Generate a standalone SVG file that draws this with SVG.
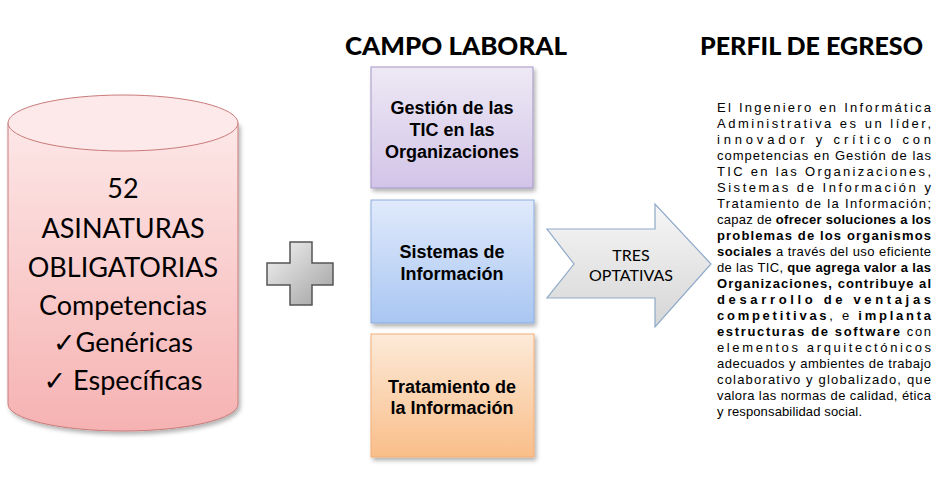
<svg xmlns="http://www.w3.org/2000/svg" width="949" height="491" viewBox="0 0 949 491">
<defs>
  <linearGradient id="gCyl" x1="0" y1="0" x2="0" y2="1">
    <stop offset="0" stop-color="#fde7e7"/>
    <stop offset="1" stop-color="#f6b2b2"/>
  </linearGradient>
  <linearGradient id="gPur" x1="0" y1="0" x2="0" y2="1">
    <stop offset="0" stop-color="#eee9f5"/>
    <stop offset="1" stop-color="#d2c4e8"/>
  </linearGradient>
  <linearGradient id="gBlu" x1="0" y1="0" x2="0" y2="1">
    <stop offset="0" stop-color="#e0eafb"/>
    <stop offset="1" stop-color="#a9c6f2"/>
  </linearGradient>
  <linearGradient id="gOra" x1="0" y1="0" x2="0" y2="1">
    <stop offset="0" stop-color="#fdead9"/>
    <stop offset="1" stop-color="#f9be89"/>
  </linearGradient>
  <linearGradient id="gGray" x1="0" y1="0" x2="0" y2="1">
    <stop offset="0" stop-color="#f6f6f6"/>
    <stop offset="1" stop-color="#d6d6d6"/>
  </linearGradient>
  <linearGradient id="gPlus" x1="0" y1="0" x2="1" y2="1">
    <stop offset="0" stop-color="#f4f4f4"/>
    <stop offset="1" stop-color="#a0a0a0"/>
  </linearGradient>
  <filter id="sh" x="-10%" y="-10%" width="125%" height="125%">
    <feDropShadow dx="2" dy="3" stdDeviation="2" flood-color="#000" flood-opacity="0.3"/>
  </filter>
</defs>
<style>
  .head { font-family: "Lato", "Open Sans", sans-serif; font-weight: 900; font-size: 24px; fill: #000; }
  .cyl { font-family: "Lato", "DejaVu Sans", sans-serif; font-size: 27px; fill: #000; text-anchor: middle; }
  .box { font-family: "Liberation Sans", Arial, sans-serif; font-weight: bold; font-size: 18px; fill: #000; text-anchor: middle; }
  .arr { font-family: "Lato", "Open Sans", sans-serif; font-size: 16px; fill: #000; text-anchor: middle; }
  .para { font-family: "Liberation Sans", Arial, sans-serif; font-size: 13px; fill: #000; }
  .b { font-weight: bold; }
</style>
<rect width="949" height="491" fill="#fff"/>

<text class="head" x="345" y="55" textLength="222" lengthAdjust="spacingAndGlyphs">CAMPO LABORAL</text>
<text class="head" x="700" y="55" textLength="223" lengthAdjust="spacingAndGlyphs">PERFIL DE EGRESO</text>

<g id="cylinder">
  <path d="M8,123 L8,404 A115,27 0 0 0 238,404 L238,123 Z" fill="url(#gCyl)" stroke="#c97b7a" stroke-width="1" filter="url(#sh)"/>
  <ellipse cx="123" cy="123" rx="115" ry="28" fill="#fde9e9" stroke="#c97b7a" stroke-width="1"/>
  <text class="cyl" x="123" y="198" font-size="40">52</text>
  <text class="cyl" x="123" y="238">ASINATURAS</text>
  <text class="cyl" x="123" y="277">OBLIGATORIAS</text>
  <text class="cyl" x="123" y="315">Competencias</text>
  <text class="cyl" x="123" y="352">✓Genéricas</text>
  <text class="cyl" x="123" y="390">✓ Específicas</text>
</g>

<g id="plus">
  <path d="M290,242 H312 V263 H333 V285 H312 V305 H290 V285 H267 V263 H290 Z" fill="url(#gPlus)" stroke="#555" stroke-width="1.5"/>
</g>

<g id="box-gestion">
  <rect x="371" y="67" width="162" height="121" fill="url(#gPur)" stroke="#a495c3" stroke-width="1" filter="url(#sh)"/>
  <text class="box" x="452" y="114">Gestión de las</text>
  <text class="box" x="452" y="136">TIC en las</text>
  <text class="box" x="452" y="158">Organizaciones</text>
</g>

<g id="box-sistemas">
  <rect x="371" y="200" width="163" height="123" fill="url(#gBlu)" stroke="#8dadde" stroke-width="1" filter="url(#sh)"/>
  <text class="box" x="452" y="258">Sistemas de</text>
  <text class="box" x="452" y="280">Información</text>
</g>

<g id="box-tratamiento">
  <rect x="371" y="334" width="163" height="123" fill="url(#gOra)" stroke="#f1ae78" stroke-width="1" filter="url(#sh)"/>
  <text class="box" x="452" y="393">Tratamiento de</text>
  <text class="box" x="452" y="414">la Información</text>
</g>

<g id="connectors">
  <g id="arrow-optativas">
    <path d="M547,229 L655,229 L655,204 L711,264 L655,327 L655,298 L547,298 L574,264 Z" fill="url(#gGray)" stroke="#8ea9c9" stroke-width="1.2" stroke-linejoin="miter"/>
    <text class="arr" x="631" y="261">TRES</text>
    <text class="arr" x="631" y="281">OPTATIVAS</text>
  </g>
</g>

<g id="perfil-text">
  <text class="para" x="717" y="112" textLength="214" lengthAdjust="spacing">El Ingeniero en Informática</text>
  <text class="para" x="717" y="128" textLength="214" lengthAdjust="spacing">Administrativa es un líder,</text>
  <text class="para" x="717" y="144" textLength="214" lengthAdjust="spacing">innovador y crítico con</text>
  <text class="para" x="717" y="160" textLength="214" lengthAdjust="spacing">competencias en Gestión de las</text>
  <text class="para" x="717" y="176" textLength="214" lengthAdjust="spacing">TIC en las Organizaciones,</text>
  <text class="para" x="717" y="192" textLength="214" lengthAdjust="spacing">Sistemas de Información y</text>
  <text class="para" x="717" y="208" textLength="214" lengthAdjust="spacing">Tratamiento de la Información;</text>
  <text class="para" x="717" y="224" textLength="214" lengthAdjust="spacing">capaz de <tspan class="b">ofrecer soluciones a los</tspan></text>
  <text class="para b" x="717" y="240" textLength="214" lengthAdjust="spacing">problemas de los organismos</text>
  <text class="para" x="717" y="256" textLength="214" lengthAdjust="spacing"><tspan class="b">sociales</tspan> a través del uso eficiente</text>
  <text class="para" x="717" y="272" textLength="214" lengthAdjust="spacing">de las TIC, <tspan class="b">que agrega valor a las</tspan></text>
  <text class="para b" x="717" y="288" textLength="214" lengthAdjust="spacing">Organizaciones, contribuye al</text>
  <text class="para b" x="717" y="304" textLength="214" lengthAdjust="spacing">desarrollo de ventajas</text>
  <text class="para" x="717" y="320" textLength="214" lengthAdjust="spacing"><tspan class="b">competitivas</tspan>, e <tspan class="b">implanta</tspan></text>
  <text class="para" x="717" y="336" textLength="214" lengthAdjust="spacing"><tspan class="b">estructuras de software</tspan> con</text>
  <text class="para" x="717" y="352" textLength="214" lengthAdjust="spacing">elementos arquitectónicos</text>
  <text class="para" x="717" y="368" textLength="214" lengthAdjust="spacing">adecuados y ambientes de trabajo</text>
  <text class="para" x="717" y="384" textLength="214" lengthAdjust="spacing">colaborativo y globalizado, que</text>
  <text class="para" x="717" y="400" textLength="214" lengthAdjust="spacing">valora las normas de calidad, ética</text>
  <text class="para" x="717" y="416" textLength="145" lengthAdjust="spacing">y responsabilidad social.</text>
</g>
</svg>
